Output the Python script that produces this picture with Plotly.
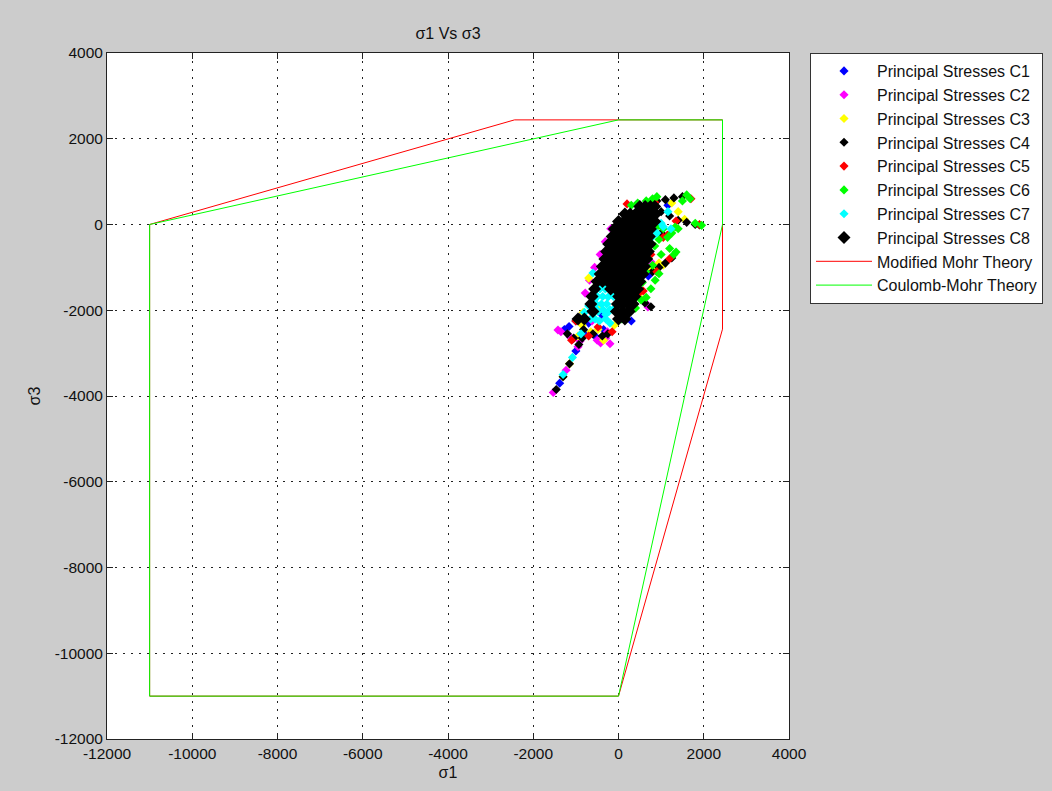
import plotly.graph_objects as go

# ---------------- data ----------------
tick_vals = [-12000, -10000, -8000, -6000, -4000, -2000, 0, 2000, 4000]
tick_text = ["-12000", "-10000", "-8000", "-6000", "-4000", "-2000", "0", "2000", "4000"]

mm_x = [2440, 2440, 0, -11000, -11000, -2440, 2440]
mm_y = [2440, -2440, -11000, -11000, 0, 2440, 2440]

cm_x = [2440, 2440, 0, -11000, -11000, 0, 2440]
cm_y = [2440, 0, -11000, -11000, 0, 2440, 2440]

c1_x = [-1000, -1380, -1160, -900, -1000, -700, -550, 1160, 700, 880, -1270, -800, 300, -350, -130, -400]
c1_y = [-2950, -3700, -2380, -2150, -2250, -2300, -2600, 450, -1200, -1000, -2450, -2500, -2250, -2450, -500, -2100]

c2_x = [-1530, -1420, -1350, -1140, -1080, -900, -500, -420, -300, -200, -260, -680, -780, -560, -430, -310,
        -180, 690, 650, 760, -1230, -950, -620]
c2_y = [-3920, -2460, -2500, -2620, -2680, -2720, -2700, -2760, -2650, -2780, -2500, -1300, -1600, -1000, -700, -400,
        -100, -1925, -1850, -870, -3400, -2850, -2250]

c3_x = [-1150, -1300, -950, -850, -650, -480, -700, 1250, 1400, 1550, 800, 950, -830, -620, -350, 1050, 500, -100, -420]
c3_y = [-3250, -3550, -2600, -2350, -2500, -2450, -1250, 500, 300, 120, -1050, -900, -2050, -1900, -2700, -950, -1700, -2350, -1950]

c4_x = [-1460, -1300, -1150, -930, -850, -1200, -1050, -820, -600, -380, -250,
        900, 1100, 1300, 1500, 1000, 1200, 1400, 1600, 1800, 1900,
        800, 950, 1100, 1250, 800, 1000, 1150, 620, 760]
c4_y = [-3850, -3550, -3250, -2800, -2650, -2550, -2650, -2450, -2550, -2600, -2550,
        550, 580, 620, 650, 300, 200, 100, 50, 0, -10,
        -1100, -1000, -900, -780, -100, -200, -250, -1830, -1920]

c5_x = [1700, 1900, 1350, 1050, 700, 900, 480, -480, -150, 100, 850, 1200, -1000, 450, 200, -1100, -700, 1150, 760, 580]
c5_y = [600, 0, 80, -300, -500, -1100, -1600, -2390, -2500, -2150, 520, -800, -2250, -1350, 480, -2700, -2600, -250, -700, -1550]

c6_x = [1600, 1680, 1500, 1950, 1800, 1330, 1250, 1400, 1150, 1050, 1350, 1300, 1200, 900, 800, 650, 450, 300,
        700, 800, 860, 760, 650, 530, 560, 400, 250, 80, 900, 950, 850, 950, 1000, 640]
c6_y = [690, 600, 550, -20, 30, -60, -200, -100, -300, -100, -640, -700, -560, 650, 600, 550, 500, 450,
        -800, -950, -1300, -1500, -1700, -1760, -1350, -1950, -2050, -2200, -50, -350, -500, -1150, -700, -1100]

c7_x = [-600, -435, -370, -245, -200, -400, -360, -130, -560, -300, -700, -800, -650, -450, 176, 1000, 1160,
        1230, 900, -880, -1300, -1080, -200, -500, 780, 1050,
        -310, -495, -120, -525, -275, -475, -225, -550, -300]
c7_y = [-1130, -1505, -1680, -1690, -1990, -1855, -1990, -1990, -1750, -2100, -1900, -2050, -2200, -2250, -1644, 30, 300,
        -100, -200, -2550, -3500, -3100, -2300, -2000, -300, -50,
        -1505, -1680, -1680, -1855, -1855, -2030, -2030, -2205, -2205]

c8_x = [500, 625, 750, 850,
        150, 275, 400, 525, 650, 775, 870,
        0, 125, 250, 375, 500, 625, 750, 850,
        -100, 25, 150, 275, 400, 525, 650, 750,
        -150, -25, 100, 225, 350, 475, 600, 725,
        -230, -105, 20, 145, 270, 395, 520, 645, 740,
        -280, -155, -30, 95, 220, 345, 470, 595, 700,
        -320, -195, -70, 55, 180, 305, 430, 555, 660,
        -380, -255, -130, -5, 120, 245, 370, 495, 610,
        -430, -305, -180, -55, 70, 195, 320, 445, 570,
        -500, -375, -250, -125, 0, 125, 250, 375, 500,
        -560, -185, -60, 65, 190, 315, 450,
        -620, 5, 130, 255, 380,
        -650, -25, 100, 225, 340,
        -600, -50, 100, 250,
        -950, -800, 0, 150]
c8_y = [420, 420, 420, 420,
        245, 245, 245, 245, 245, 245, 245,
        70, 70, 70, 70, 70, 70, 70, 70,
        -105, -105, -105, -105, -105, -105, -105, -105,
        -280, -280, -280, -280, -280, -280, -280, -280,
        -455, -455, -455, -455, -455, -455, -455, -455, -455,
        -630, -630, -630, -630, -630, -630, -630, -630, -630,
        -805, -805, -805, -805, -805, -805, -805, -805, -805,
        -980, -980, -980, -980, -980, -980, -980, -980, -980,
        -1155, -1155, -1155, -1155, -1155, -1155, -1155, -1155, -1155,
        -1330, -1330, -1330, -1330, -1330, -1330, -1330, -1330, -1330,
        -1505, -1505, -1505, -1505, -1505, -1505, -1505,
        -1680, -1680, -1680, -1680, -1680,
        -1855, -1855, -1855, -1855, -1855,
        -2030, -2030, -2030, -2030,
        -2205, -2205, -2205, -2205]

series = [
    ("Principal Stresses C1", c1_x, c1_y, "#0000FF", 7),
    ("Principal Stresses C2", c2_x, c2_y, "#FF00FF", 7),
    ("Principal Stresses C3", c3_x, c3_y, "#FFFF00", 7),
    ("Principal Stresses C4", c4_x, c4_y, "#000000", 7),
    ("Principal Stresses C5", c5_x, c5_y, "#FF0000", 7),
    ("Principal Stresses C6", c6_x, c6_y, "#00FF00", 7),
    ("Principal Stresses C7", c7_x, c7_y, "#00FFFF", 7),
    ("Principal Stresses C8", c8_x, c8_y, "#000000", 10),
]

fig = go.Figure()
for i, (name, xs, ys, col, sz) in enumerate(series):
    fig.add_trace(go.Scatter(
        x=xs, y=ys, mode="markers", name=name, legendgroup=f"g{i}",
        marker=dict(symbol="diamond", size=sz, color=col, line=dict(width=0)),
    ))

fig.add_trace(go.Scatter(x=mm_x, y=mm_y, mode="lines", name="Modified Mohr Theory", legendgroup="g8",
                         line=dict(color="#FF0000", width=1)))
fig.add_trace(go.Scatter(x=cm_x, y=cm_y, mode="lines", name="Coulomb-Mohr Theory", legendgroup="g9",
                         line=dict(color="#00FF00", width=1)))

axis_common = dict(
    range=[-12000, 4000], tickmode="array", tickvals=tick_vals, ticktext=tick_text,
    showgrid=True, gridcolor="#222222", griddash="2px,6px", gridwidth=1,
    zeroline=False, showline=True, linecolor="#222222", linewidth=1,
    mirror="ticks", ticks="inside", ticklen=6, tickcolor="#222222",
    tickfont=dict(size=15.5, color="#111111"),
    automargin=False,
)

fig.update_layout(
    width=1052, height=791, autosize=False,
    paper_bgcolor="#CCCCCC", plot_bgcolor="#FFFFFF",
    margin=dict(l=107, r=263, t=53, b=52, autoexpand=False),
    font=dict(family="Liberation Sans, Arial, sans-serif", color="#111111"),
    title=dict(text="σ1 Vs σ3", x=0.5, xref="paper", xanchor="center",
               y=1 - 33 / 791, yref="container", yanchor="middle",
               font=dict(size=16, color="#111111")),
    xaxis=dict(axis_common, title=dict(text="σ1", font=dict(size=16), standoff=6)),
    yaxis=dict(axis_common, title=dict(text="σ3", font=dict(size=16), standoff=10)),
    legend=dict(x=1.0308, xanchor="left", y=1, yanchor="top",
                bgcolor="#FFFFFF", bordercolor="#333333", borderwidth=1,
                font=dict(size=16, color="#111111"),
                traceorder="grouped", tracegroupgap=0, itemwidth=56),
    showlegend=True,
)

fig.write_html("out.html")
